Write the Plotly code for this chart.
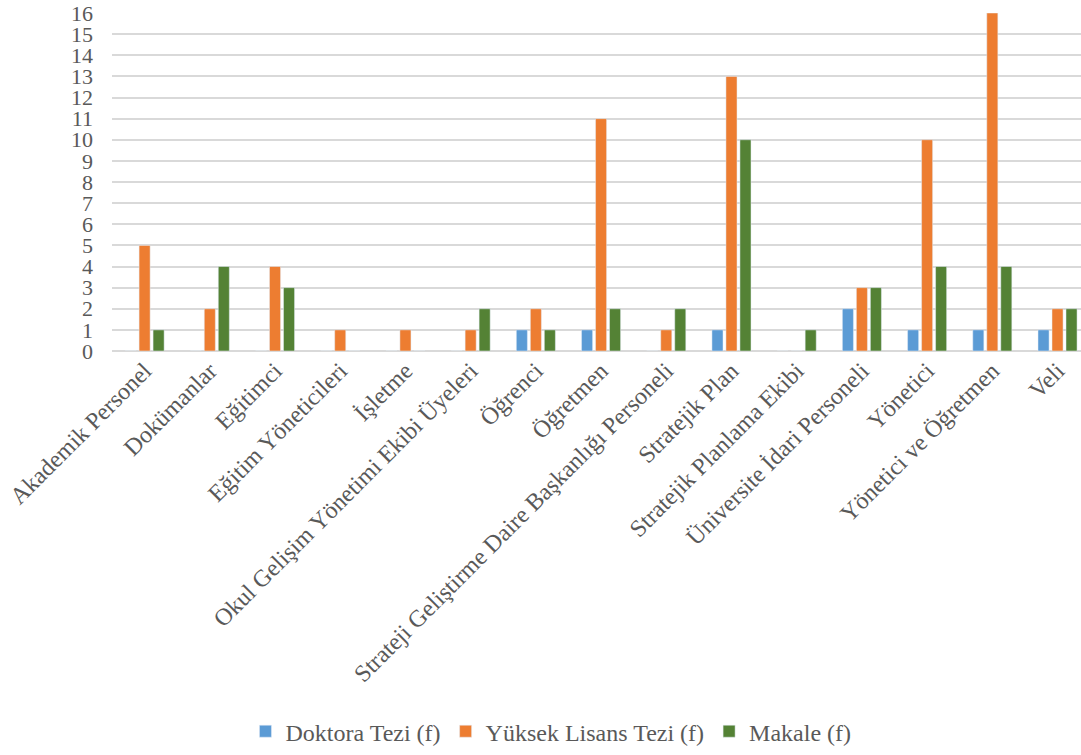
import plotly.graph_objects as go

categories = ["Akademik Personel", "Dokümanlar", "Eğitimci", "Eğitim Yöneticileri", "İşletme",
              "Okul Gelişim Yönetimi Ekibi Üyeleri", "Öğrenci", "Öğretmen",
              "Strateji Geliştirme Daire Başkanlığı Personeli", "Stratejik Plan",
              "Stratejik Planlama Ekibi", "Üniversite İdari Personeli", "Yönetici",
              "Yönetici ve Öğretmen", "Veli"]
doktora = [0, 0, 0, 0, 0, 0, 1, 1, 0, 1, 0, 2, 1, 1, 1]
yuksek_lisans = [5, 2, 4, 1, 1, 1, 2, 11, 1, 13, 0, 3, 10, 16, 2]
makale = [1, 4, 3, 0, 0, 2, 1, 2, 2, 10, 1, 3, 4, 4, 2]
y_ticks = list(range(0, 17))

font_family = "Liberation Serif"
grey = "#595959"

fig = go.Figure()
fig.add_trace(go.Bar(name="Doktora Tezi (f)", x=categories, y=doktora, marker_color="#5B9BD5"))
fig.add_trace(go.Bar(name="Yüksek Lisans Tezi (f)", x=categories, y=yuksek_lisans, marker_color="#ED7D31"))
fig.add_trace(go.Bar(name="Makale (f)", x=categories, y=makale, marker_color="#548235"))

fig.update_layout(
    width=1081, height=755,
    barmode="group", bargap=0.356, bargroupgap=0.21,
    plot_bgcolor="white", paper_bgcolor="white",
    margin=dict(l=112, r=0, t=13, b=400),
    font=dict(family=font_family, color=grey, size=22),
    showlegend=True,
    legend=dict(orientation="h", x=0.453, xanchor="center", y=-1.126, yanchor="middle",
                font=dict(family=font_family, size=24, color=grey), itemwidth=30,
                traceorder="normal"),
)
fig.update_xaxes(tickangle=-45, tickfont=dict(family=font_family, size=24, color=grey),
                 showgrid=False, showline=False, ticks="", automargin=False,
                 range=[-0.5, 14.36])
fig.update_yaxes(range=[0, 16], tickvals=y_ticks, ticktext=[str(v) for v in y_ticks],
                 showgrid=True, gridcolor="#D9D9D9", gridwidth=1.5,
                 zeroline=True, zerolinecolor="#D9D9D9", zerolinewidth=1.5,
                 tickfont=dict(family=font_family, size=22, color=grey), ticks="",
                 ticklabelstandoff=18, automargin=False)

fig.write_html("out.html", config={"displayModeBar": False},
               post_script="document.body.style.margin='0';document.body.style.overflow='hidden';")
